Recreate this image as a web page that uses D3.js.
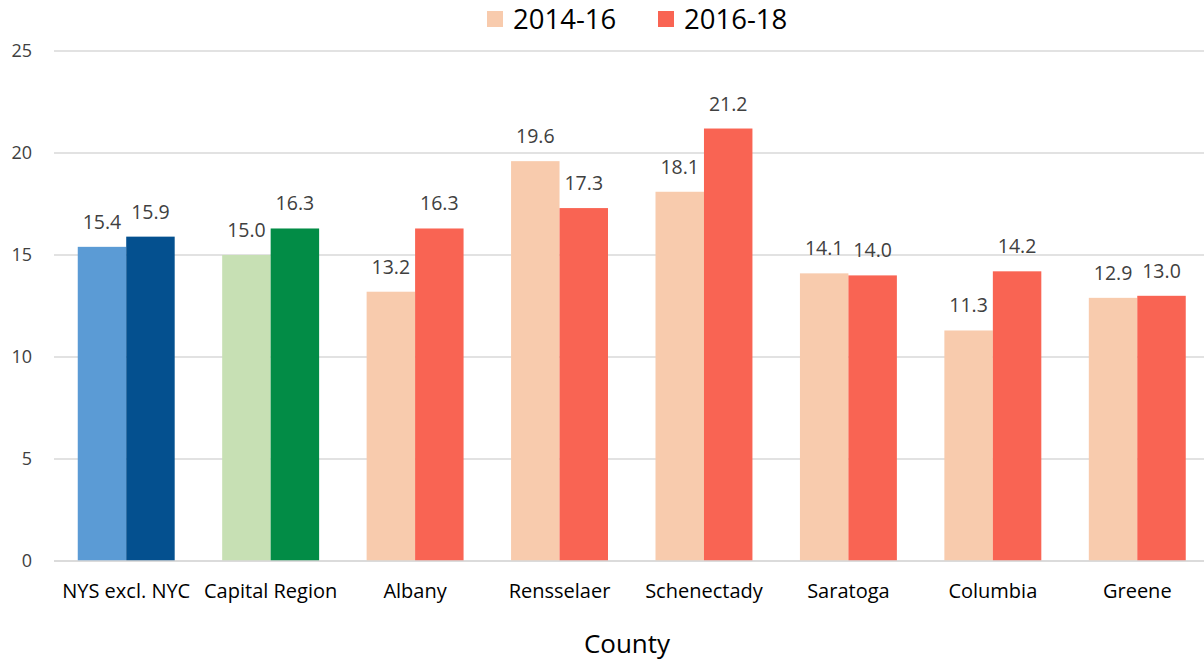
<!DOCTYPE html>
<html><head><meta charset="utf-8">
<script src="https://cdn.jsdelivr.net/npm/d3@7"></script>
<style>body{margin:0;background:#fff}svg{display:block}text{font-family:"Open Sans","Noto Sans",sans-serif}</style>
</head><body><svg id="c" width="1204" height="662"></svg>
<script>
const categories = ["NYS excl. NYC","Capital Region","Albany","Rensselaer","Schenectady","Saratoga","Columbia","Greene"];
const series = ["2014-16","2016-18"];
const values1416 = [15.4,15.0,13.2,19.6,18.1,14.1,11.3,12.9];
const values1618 = [15.9,16.3,16.3,17.3,21.2,14.0,14.2,13.0];
const yTicks = [0,5,10,15,20,25];
const lightColors = ["#5B9BD5","#C7E0B4","#F8CBAD","#F8CBAD","#F8CBAD","#F8CBAD","#F8CBAD","#F8CBAD"];
const darkColors = ["#04508F","#028C46","#F96453","#F96453","#F96453","#F96453","#F96453","#F96453"];

(function(){
const svg = d3.select("#c");
const mL = 54, mR = 1209.5, mT = 51, mB = 561;
const x = d3.scaleBand().domain(categories).range([mL,mR]).paddingInner(0).paddingOuter(0);
const sub = d3.scaleBand().domain(series).range([0,x.bandwidth()]).paddingOuter(0.49).paddingInner(0);
const y = d3.scaleLinear().domain([0,25]).range([mB,mT]);

svg.append("g").selectAll("line").data(yTicks).join("line")
  .attr("x1",mL).attr("x2",1204).attr("y1",d=>y(d)).attr("y2",d=>y(d))
  .attr("stroke","#d9d9d9").attr("stroke-width",1.5);

svg.append("g").selectAll("text").data(yTicks).join("text")
  .attr("x",32).attr("y",d=>y(d)).attr("dy","0.35em").attr("text-anchor","end")
  .attr("font-size",18).attr("fill","#404040").text(d=>d);

const rows = categories.map((c,i)=>({c,i,v:[values1416[i],values1618[i]]}));
const g = svg.append("g");
rows.forEach(r=>{
  series.forEach((s,j)=>{
    const v = r.v[j];
    g.append("rect").attr("x",x(r.c)+sub(s)).attr("width",sub.bandwidth())
      .attr("y",y(v)).attr("height",y(0)-y(v))
      .attr("fill", j===0?lightColors[r.i]:darkColors[r.i]);
    g.append("text").attr("x",x(r.c)+sub(s)+sub.bandwidth()/2).attr("y",y(v)-18)
      .attr("text-anchor","middle").attr("font-size",19.5).attr("fill","#404040")
      .text(v.toFixed(1));
  });
});

svg.append("line").attr("x1",mL).attr("x2",1204).attr("y1",y(0)).attr("y2",y(0))
  .attr("stroke","#d9d9d9").attr("stroke-width",1.5);

svg.append("g").selectAll("text").data(categories).join("text")
  .attr("x",d=>x(d)+x.bandwidth()/2).attr("y",598).attr("text-anchor","middle")
  .attr("font-size",20).attr("fill","#000").text(d=>d);

svg.append("text").attr("x",627).attr("y",653).attr("text-anchor","middle")
  .attr("font-size",26).attr("fill","#000").text("County");

const leg = [{s:series[0],c:"#F8CBAD",x:487},{s:series[1],c:"#F96453",x:658}];
leg.forEach(l=>{
  svg.append("rect").attr("x",l.x).attr("y",11).attr("width",16).attr("height",16).attr("fill",l.c);
  svg.append("text").attr("x",l.x+26).attr("y",29).attr("font-size",27.5).attr("fill","#000").text(l.s);
});
})();
</script></body></html>
